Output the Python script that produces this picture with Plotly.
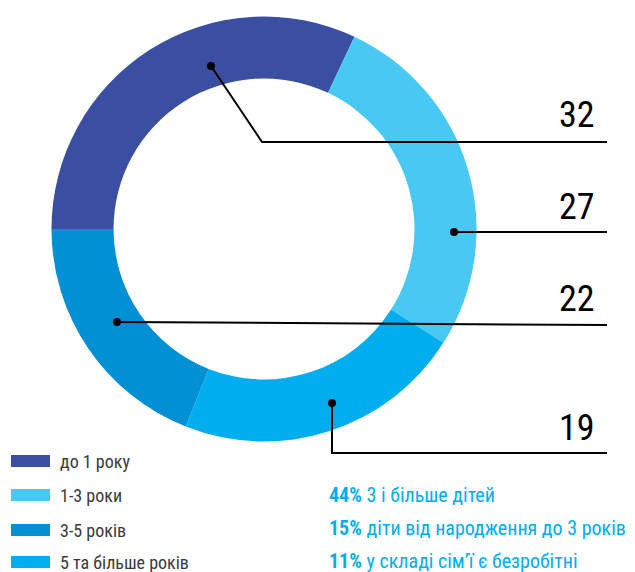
import plotly.graph_objects as go

W, H = 635, 572
OFF = 8  # page margin of the browser body

# ---- data ----
slice_labels = ["до 1 року", "1-3 роки", "5 та більше років", "3-5 років"]
slice_values = [32, 27, 22, 19]
slice_colors = ["#3a4fa2", "#47c9f4", "#00aeef", "#0090d3"]

legend_labels = ["до 1 року", "1-3 роки", "3-5 років", "5 та більше років"]
legend_colors = ["#3a4fa2", "#47c9f4", "#0090d3", "#00aeef"]

callout_texts = ["32", "27", "22", "19"]

fact_pcts = ["44%", "15%", "11%"]
fact_texts = ["3 і більше дітей", "діти від народження до 3 років", "у складі сім’ї є безробітні"]

# ---- layout helpers (page pixel -> paper) ----
def px(x):
    return (x - OFF) / W

def py(y):
    return 1 - (y - OFF) / H

FONT = "Roboto Condensed, Roboto, sans-serif"

cx, cy, R = 264, 229, 212.5

fig = go.Figure()
fig.add_trace(go.Pie(
    labels=slice_labels,
    values=slice_values,
    marker=dict(colors=slice_colors, line=dict(width=0)),
    hole=0.708,
    sort=False,
    direction="clockwise",
    rotation=270,
    textinfo="none",
    hoverinfo="label+value",
    showlegend=False,
    domain=dict(x=[px(cx - R), px(cx + R)], y=[py(cy + R), py(cy - R)]),
))

shapes = []
annotations = []

# leader lines (pixel paths) and end labels
leaders = [
    [(211, 66), (262, 142), (607, 142)],
    [(454, 232), (607, 232)],
    [(117, 322), (607, 325)],
    [(332, 403), (332, 453), (607, 453)],
]
label_y = [115, 207, 299, 428]

for pts, txt, ly in zip(leaders, callout_texts, label_y):
    path = "M " + " L ".join(f"{px(x)},{py(y)}" for x, y in pts)
    shapes.append(dict(type="path", xref="paper", yref="paper", path=path,
                       line=dict(color="#000000", width=2)))
    x0, y0 = pts[0]
    r = 4
    shapes.append(dict(type="circle", xref="paper", yref="paper",
                       x0=px(x0 - r), x1=px(x0 + r), y0=py(y0 + r), y1=py(y0 - r),
                       fillcolor="#000000", line=dict(width=0)))
    annotations.append(dict(text=txt, xref="paper", yref="paper",
                            x=px(597), y=py(ly), xanchor="right", yanchor="middle",
                            showarrow=False,
                            font=dict(family=FONT, size=36, color="#000000")))

# custom legend
leg_y = [461, 495, 530, 562]
for lab, col, ly in zip(legend_labels, legend_colors, leg_y):
    shapes.append(dict(type="rect", xref="paper", yref="paper",
                       x0=px(11), x1=px(50), y0=py(ly + 6), y1=py(ly - 6),
                       fillcolor=col, line=dict(width=0)))
    annotations.append(dict(text=lab, xref="paper", yref="paper",
                            x=px(58), y=py(ly), xanchor="left", yanchor="middle",
                            showarrow=False,
                            font=dict(family=FONT, size=18, color="#3a3a3a")))

# facts
fact_y = [495, 528, 561]
for pct, txt, fy in zip(fact_pcts, fact_texts, fact_y):
    annotations.append(dict(text=f"<b>{pct}</b> {txt}", xref="paper", yref="paper",
                            x=px(327), y=py(fy), xanchor="left", yanchor="middle",
                            showarrow=False,
                            font=dict(family=FONT, size=20, color="#00aeef")))

fig.update_layout(
    width=W, height=H,
    margin=dict(l=0, r=0, t=0, b=0),
    paper_bgcolor="#ffffff",
    plot_bgcolor="#ffffff",
    shapes=shapes,
    annotations=annotations,
    showlegend=False,
)

fig.write_html("out.html")
